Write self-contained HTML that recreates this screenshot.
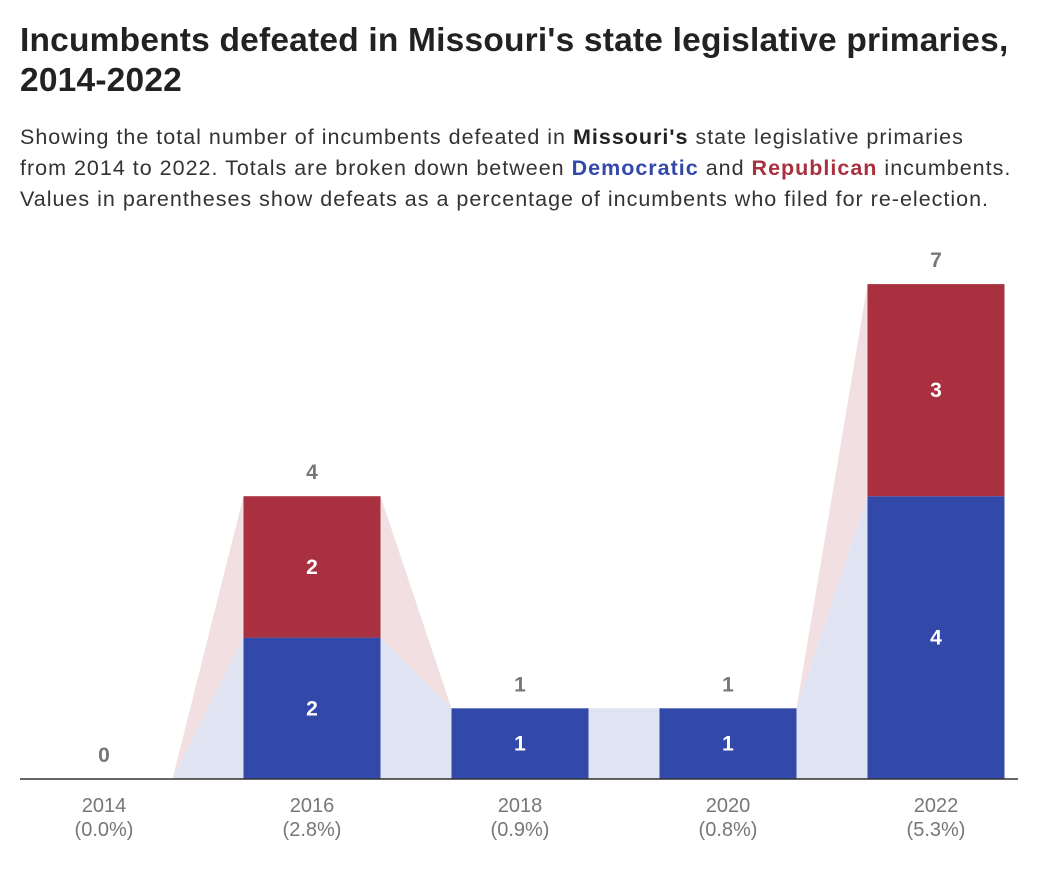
<!DOCTYPE html>
<html><head><meta charset="utf-8">
<style>
body{margin:0;width:1040px;height:890px;background:#fff;font-family:"Liberation Sans",sans-serif;overflow:hidden}
h1{position:absolute;left:20px;top:21px;margin:0;font-size:33.5px;line-height:40px;font-weight:bold;color:#222;letter-spacing:0.2px;white-space:nowrap}
p{position:absolute;left:20px;top:122px;margin:0;font-size:21.5px;line-height:31px;color:#333;white-space:nowrap;letter-spacing:1px}
.d{color:#3349aa;font-weight:bold}.r{color:#a8303f;font-weight:bold}
svg{position:absolute;left:0;top:0}
</style></head><body>
<h1>Incumbents defeated in Missouri's state legislative primaries,<br>2014-2022</h1>
<p>Showing the total number of incumbents defeated in <b style="color:#222">Missouri's</b> state legislative primaries<br>from 2014 to 2022. Totals are broken down between <span class="d">Democratic</span> and <span class="r">Republican</span> incumbents.<br>Values in parentheses show defeats as a percentage of incumbents who filed for re-election.</p>
<svg id="c" width="1040" height="890"></svg>
<script>
const years=["2014","2016","2018","2020","2022"];
const pcts=["(0.0%)","(2.8%)","(0.9%)","(0.8%)","(5.3%)"];
const dem=[0,2,1,1,4];
const rep=[0,2,0,0,3];
const NS="http://www.w3.org/2000/svg";
const svg=document.getElementById('c');
const base=779,unit=70.7,bw=137,band=208,x0=0;
const y=v=>base-v*unit;
const cx=i=>x0+band*i+band/2;
function mk(t,a,p){const e=document.createElementNS(NS,t);for(const k in a)e.setAttribute(k,a[k]);(p||svg).appendChild(e);return e;}
for(let i=0;i<years.length-1;i++){
  const xa=cx(i)+bw/2,xb=cx(i+1)-bw/2;
  const p1=mk('polygon',{points:`${xa},${base} ${xa},${y(dem[i])} ${xb},${y(dem[i+1])} ${xb},${base}`,fill:'#e0e3f2'});
  
  
  const p2=mk('polygon',{points:`${xa},${y(dem[i])} ${xa},${y(dem[i]+rep[i])} ${xb},${y(dem[i+1]+rep[i+1])} ${xb},${y(dem[i+1])}`,fill:'#f2dfe1'});
  
  
}
years.forEach((yr,i)=>{
  const x=cx(i)-bw/2;
  if(dem[i]>0){
    const b=mk('rect',{x:x,y:y(dem[i]),width:bw,height:dem[i]*unit,fill:'#3349aa'});
    
    
    const t=mk('text',{x:cx(i),y:(y(dem[i])+base)/2+7,'text-anchor':'middle','font-size':21,'font-weight':'bold',fill:'#fff'});t.textContent=dem[i];
    
    
  }
  if(rep[i]>0){
    const b=mk('rect',{x:x,y:y(dem[i]+rep[i]),width:bw,height:rep[i]*unit,fill:'#a8303f'});
    
    
    const t=mk('text',{x:cx(i),y:(y(dem[i]+rep[i])+y(dem[i]))/2+7,'text-anchor':'middle','font-size':21,'font-weight':'bold',fill:'#fff'});t.textContent=rep[i];
    
    
  }
  const tot=mk('text',{x:cx(i),y:y(dem[i]+rep[i])-17,'text-anchor':'middle','font-size':21,'font-weight':'bold',fill:'#777'});tot.textContent=dem[i]+rep[i];
  
  
  const yl=mk('text',{x:cx(i),y:812,'text-anchor':'middle','font-size':20,fill:'#777'});yl.textContent=yr;
  
  
  const pl=mk('text',{x:cx(i),y:836,'text-anchor':'middle','font-size':20,fill:'#777'});pl.textContent=pcts[i];
  
  
});
const ax=mk('line',{x1:20,x2:1018,y1:base,y2:base,stroke:'#333','stroke-width':1.5});


</script>
</body></html>
